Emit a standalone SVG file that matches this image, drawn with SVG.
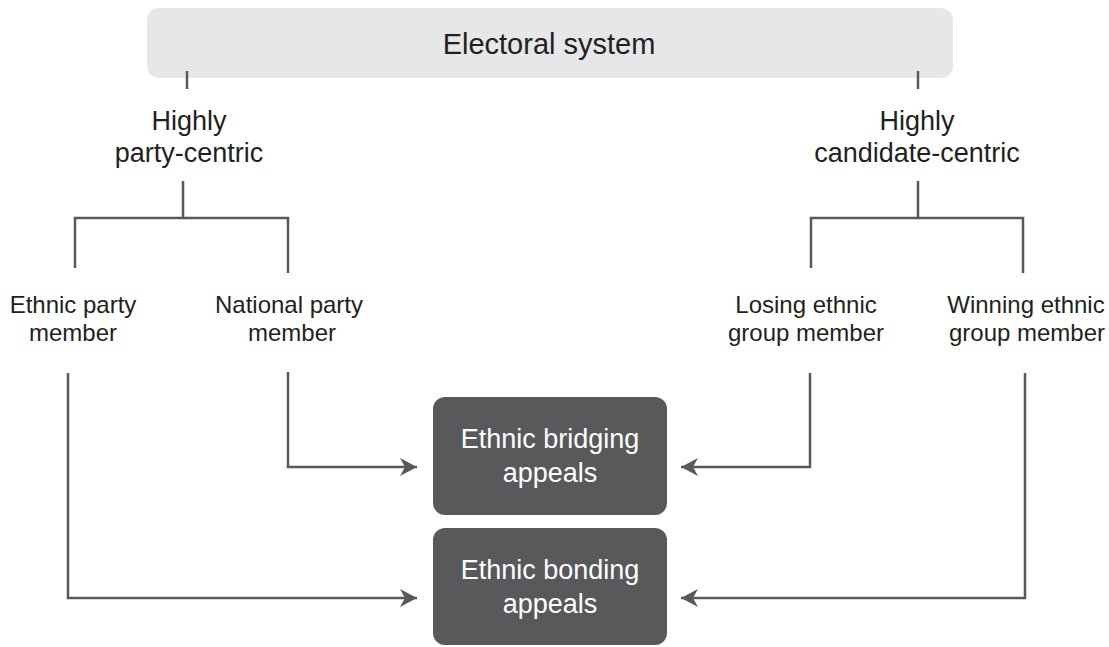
<svg xmlns="http://www.w3.org/2000/svg" width="1109" height="647" viewBox="0 0 1109 647">
<defs>
<style>
text{font-family:"Liberation Sans",Arial,Helvetica,sans-serif;fill:#231f20;text-anchor:middle}
.lbl{font-size:24px}
.up{font-size:27px}
.top{font-size:29px}
.dark text{fill:#ffffff;font-size:27px}
.ln{fill:none;stroke:#58595b;stroke-width:2.5}
</style>
<marker id="ah" markerUnits="userSpaceOnUse" markerWidth="20" markerHeight="20" viewBox="0 -10 18 20" refX="17" refY="0" orient="auto">
<path d="M0,-9 L17,0 L0,9 L5,0 Z" fill="#58595b"/>
</marker>
</defs>
<rect width="1109" height="647" fill="#ffffff"/>
<g id="electoral-system">
<rect x="147" y="8" width="806" height="70" rx="12" fill="#e6e7e8"/>
<text class="top" x="549" y="54">Electoral system</text>
</g>
<g id="party-centric">
<text class="up"><tspan x="189" y="130">Highly</tspan><tspan x="189" y="162">party-centric</tspan></text>
</g>
<g id="candidate-centric">
<text class="up"><tspan x="917" y="130">Highly</tspan><tspan x="917" y="162">candidate-centric</tspan></text>
</g>
<g id="ethnic-party-member">
<text class="lbl"><tspan x="73" y="313">Ethnic party</tspan><tspan x="73" y="341">member</tspan></text>
</g>
<g id="national-party-member">
<text class="lbl"><tspan x="289" y="313">National party</tspan><tspan x="292" y="341">member</tspan></text>
</g>
<g id="losing-ethnic-group-member">
<text class="lbl"><tspan x="806" y="313">Losing ethnic</tspan><tspan x="806" y="341">group member</tspan></text>
</g>
<g id="winning-ethnic-group-member">
<text class="lbl"><tspan x="1026" y="313">Winning ethnic</tspan><tspan x="1027" y="341">group member</tspan></text>
</g>
<g id="ethnic-bridging-appeals" class="dark">
<rect x="433" y="397" width="234" height="118" rx="12" fill="#58595b"/>
<text><tspan x="550" y="448">Ethnic bridging</tspan><tspan x="550" y="482">appeals</tspan></text>
</g>
<g id="ethnic-bonding-appeals" class="dark">
<rect x="433" y="528" width="234" height="117" rx="12" fill="#58595b"/>
<text><tspan x="550" y="579">Ethnic bonding</tspan><tspan x="550" y="613">appeals</tspan></text>
</g>
<g id="connectors">
<line class="ln" x1="187" y1="71" x2="187" y2="89"/>
<line class="ln" x1="918" y1="71" x2="918" y2="89"/>
<path class="ln" d="M183,181 V218 M75,268 V218 H288 V273"/>
<path class="ln" d="M918,181 V218 M811,268 V218 H1023 V273"/>
<path class="ln" d="M68,373 V598 H417" marker-end="url(#ah)"/>
<path class="ln" d="M288,372 V467 H417" marker-end="url(#ah)"/>
<path class="ln" d="M810,373 V467 H681" marker-end="url(#ah)"/>
<path class="ln" d="M1025,373 V598 H681" marker-end="url(#ah)"/>
</g>
</svg>
